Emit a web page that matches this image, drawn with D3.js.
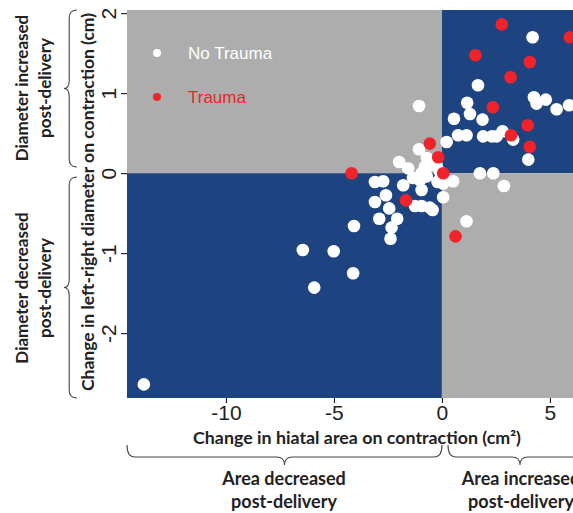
<!DOCTYPE html>
<html>
<head>
<meta charset="utf-8">
<script src="https://cdn.jsdelivr.net/npm/d3@7"></script>
<style>
  body { margin: 0; background: #fff; }
  svg { display: block; }
</style>
</head>
<body>
<script>
// datos
var noTraumaArea = [-13.8, -6.44, -5.01, -5.91, -4.11, -4.07, -3.10, -2.72, -1.79, -1.98, -1.56, -1.06,
  0.22, 0.75, 1.14, -0.79, -0.94, -0.56, -0.25, -1.02, -0.94, 0.52, 0.06, 0.06, -2.59, -3.10, -2.44,
  -2.90, -2.07, -2.33, -2.38, -1.25, -0.94, -0.56, -0.43, 1.14, 1.76, 2.38, 2.87, 4.0, 4.20, 1.67,
  1.17, 1.30, 0.56, 1.88, 4.26, 4.38, 4.81, 5.31, 5.89, -1.06, 1.91, 2.31, 2.53, 2.81, 3.30,
  -1.34, -0.69, -0.05, -0.70, -0.10, -0.20]
var noTraumaDiam = [-2.64, -0.96, -0.975, -1.43, -1.25, -0.66, -0.11, -0.10, -0.15, 0.14, 0.06, 0.30,
  0.39, 0.475, 0.475, 0.08, 0.0, 0.10, 0.10, -0.09, -0.21, -0.10, -0.13, -0.30, -0.275, -0.36, -0.44,
  -0.57, -0.57, -0.68, -0.82, -0.41, -0.41, -0.43, -0.46, -0.60, 0.0, 0.0, -0.16, 0.17, 1.70, 1.10,
  0.88, 0.74, 0.68, 0.67, 0.95, 0.87, 0.92, 0.80, 0.85, 0.84, 0.46, 0.46, 0.46, 0.525, 0.42,
  -0.06, 0.19, -0.06, -0.04, 0.02, -0.11]

var traumaArea = [-4.18, -0.56, -0.17, 0.06, -1.66, 0.63, 2.77, 5.93, 1.55, 4.07, 3.18, 2.36, 3.97, 4.07, 3.20]
var traumaDiam = [0.0, 0.37, 0.20, 0.0, -0.34, -0.79, 1.86, 1.70, 1.475, 1.39, 1.20, 0.825, 0.60, 0.33, 0.475]

var xTicks = [-10, -5, 0, 5]
var yTicks = [-2, -1, 0, 1, 2]

var width = 573
var height = 513

var margin = { top: 10, bottom: 115, left: 127, right: 0 }

var azul = "#1d4380"
var gris = "#adadad"
var rojo = "#ef2329"
var fuente = "Lato, 'Open Sans', sans-serif"
var fuenteEje = "Arial, 'Liberation Sans', sans-serif"

var escalaX = d3.scaleLinear()
  .domain([-14.58, 6.07])
  .range([margin.left, width - margin.right])

var escalaY = d3.scaleLinear()
  .domain([-2.81, 2.04])
  .range([height - margin.bottom, margin.top])

var svg = d3.select("body")
  .append("svg")
  .attr("width", width)
  .attr("height", height)

var x0 = escalaX(0), y0 = escalaY(0)
var xa = escalaX.range()[0], xb = escalaX.range()[1]
var ya = escalaY.range()[1], yb = escalaY.range()[0]

// cuadrantes
var cuadrantes = [
  { x: xa, y: ya, w: x0 - xa, h: y0 - ya, c: gris },
  { x: x0, y: ya, w: xb - x0, h: y0 - ya, c: azul },
  { x: xa, y: y0, w: x0 - xa, h: yb - y0, c: azul },
  { x: x0, y: y0, w: xb - x0, h: yb - y0, c: gris }
]
svg.selectAll("rect.cuad")
  .data(cuadrantes)
  .enter()
  .append("rect")
  .attr("x", d => d.x)
  .attr("y", d => d.y)
  .attr("width", d => d.w)
  .attr("height", d => d.h)
  .attr("fill", d => d.c)

// puntos
var blancos = noTraumaArea.map((v, i) => ({ x: v, y: noTraumaDiam[i] }))
var rojos = traumaArea.map((v, i) => ({ x: v, y: traumaDiam[i] }))

svg.append("g")
  .selectAll("circle")
  .data(blancos)
  .enter()
  .append("circle")
  .attr("cx", d => escalaX(d.x))
  .attr("cy", d => escalaY(d.y))
  .attr("r", 6.3)
  .attr("fill", "#fff")

svg.append("g")
  .selectAll("circle")
  .data(rojos)
  .enter()
  .append("circle")
  .attr("cx", d => escalaX(d.x))
  .attr("cy", d => escalaY(d.y))
  .attr("r", 6.3)
  .attr("fill", rojo)

// leyenda
var leyenda = [
  { txt: "No Trauma", c: "#fff", y: 53 },
  { txt: "Trauma", c: rojo, y: 97 }
]
var gLey = svg.append("g")
gLey.selectAll("circle")
  .data(leyenda)
  .enter()
  .append("circle")
  .attr("cx", 157)
  .attr("cy", d => d.y)
  .attr("r", 4)
  .attr("fill", d => d.c)
gLey.selectAll("text")
  .data(leyenda)
  .enter()
  .append("text")
  .attr("x", 188)
  .attr("y", d => d.y)
  .attr("dy", "0.35em")
  .attr("fill", d => d.c)
  .style("font-family", fuenteEje)
  .style("font-size", "17px")
  .text(d => d.txt)

// ejes (guion normal, no signo menos)
var ejeX = d3.axisBottom(escalaX)
  .tickValues(xTicks)
  .tickSize(5)
  .tickPadding(2)
  .tickFormat(d => String(d))
var gX = svg.append("g")
  .attr("transform", "translate(0," + yb + ")")
  .call(ejeX)
gX.select(".domain").remove()
gX.selectAll("text")
  .style("font-family", fuenteEje)
  .style("font-size", "21px")
  .attr("fill", "#222")

var ejeY = d3.axisLeft(escalaY)
  .tickValues(yTicks)
  .tickSize(6)
  .tickFormat(d => String(d))
var gY = svg.append("g")
  .attr("transform", "translate(" + xa + ",0)")
  .call(ejeY)
gY.select(".domain").remove()
gY.selectAll("text")
  .attr("x", null)
  .attr("dy", null)
  .attr("text-anchor", "middle")
  .attr("transform", "translate(-19,0) rotate(-90)")
  .attr("dominant-baseline", "central")
  .style("font-family", fuenteEje)
  .style("font-size", "21px")
  .attr("fill", "#222")

// titulos
svg.append("text")
  .attr("x", 357)
  .attr("y", 438)
  .attr("dy", "0.35em")
  .attr("text-anchor", "middle")
  .attr("textLength", 328)
  .attr("lengthAdjust", "spacingAndGlyphs")
  .style("font-family", fuente)
  .style("font-weight", "bold")
  .style("font-size", "17px")
  .attr("fill", "#222")
  .text("Change in hiatal area on contraction (cm²)")

svg.append("text")
  .attr("transform", "translate(88,202) rotate(-90)")
  .attr("dy", "0.35em")
  .attr("text-anchor", "middle")
  .attr("textLength", 378)
  .attr("lengthAdjust", "spacingAndGlyphs")
  .style("font-family", fuente)
  .style("font-weight", "bold")
  .style("font-size", "17px")
  .attr("fill", "#222")
  .text("Change in left-right diameter on contraction (cm)")

// llaves
function llaveH(xi, xf, y, d) {
  var m = (xi + xf) / 2, q = d * 0.6, r = 8
  return "M" + xi + "," + y +
    " Q" + xi + "," + (y + q) + " " + (xi + r) + "," + (y + q) +
    " L" + (m - r) + "," + (y + q) +
    " Q" + m + "," + (y + q) + " " + m + "," + (y + d) +
    " Q" + m + "," + (y + q) + " " + (m + r) + "," + (y + q) +
    " L" + (xf - r) + "," + (y + q) +
    " Q" + xf + "," + (y + q) + " " + xf + "," + y
}
function llaveV(yi, yf, x, d) {
  var m = (yi + yf) / 2, q = d * 0.6, r = 8
  return "M" + x + "," + yi +
    " Q" + (x - q) + "," + yi + " " + (x - q) + "," + (yi + r) +
    " L" + (x - q) + "," + (m - r) +
    " Q" + (x - q) + "," + m + " " + (x - d) + "," + m +
    " Q" + (x - q) + "," + m + " " + (x - q) + "," + (m + r) +
    " L" + (x - q) + "," + (yf - r) +
    " Q" + (x - q) + "," + yf + " " + x + "," + yf
}

var llaves = [
  llaveH(127, 442, 445, 20),
  llaveH(448, 592, 445, 20),
  llaveV(10, 167, 77, 13),
  llaveV(177, 398, 77, 13)
]
svg.selectAll("path.llave")
  .data(llaves)
  .enter()
  .append("path")
  .attr("d", d => d)
  .attr("fill", "none")
  .attr("stroke", "#444")
  .attr("stroke-width", 1.1)

var etiquetas = [
  { t: "Area decreased", x: 284, y: 479, rot: false },
  { t: "post-delivery", x: 284, y: 502, rot: false },
  { t: "Area increased", x: 521, y: 479, rot: false },
  { t: "post-delivery", x: 521, y: 502, rot: false },
  { t: "Diameter increased", x: 22, y: 88, rot: true },
  { t: "post-delivery", x: 45, y: 88, rot: true },
  { t: "Diameter decreased", x: 22, y: 288, rot: true },
  { t: "post-delivery", x: 45, y: 288, rot: true }
]
svg.selectAll("text.etq")
  .data(etiquetas)
  .enter()
  .append("text")
  .attr("transform", d => "translate(" + d.x + "," + d.y + ")" + (d.rot ? " rotate(-90)" : ""))
  .attr("dy", "0.35em")
  .attr("text-anchor", "middle")
  .style("font-family", fuente)
  .style("font-weight", "bold")
  .style("font-size", d => d.rot ? "17px" : "18px")
  .attr("fill", "#222")
  .text(d => d.t)
</script>
</body>
</html>
